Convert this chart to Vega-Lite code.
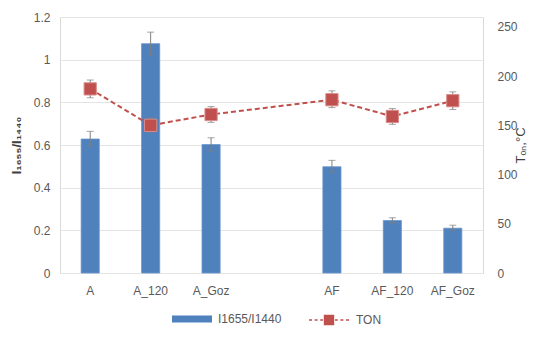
{
  "$schema": "https://vega.github.io/schema/vega-lite/v6.json",
  "autosize": "none",
  "width": 423,
  "height": 256,
  "padding": {"left": 60, "top": 17, "right": 67, "bottom": 66},
  "background": "white",
  "config": {
    "font": "Liberation Sans",
    "view": {"stroke": "#d9d9d9", "strokeWidth": 1},
    "axis": {"labelColor": "#595959", "labelFontSize": 12, "titleColor": "#404040", "titleFontSize": 13, "titleFontWeight": "bold", "domain": false, "ticks": false},
    "legend": {"labelFontSize": 12, "labelColor": "#595959", "symbolSize": 1600, "labelOffset": 6, "title": null, "orient": "none", "direction": "horizontal"}
  },
  "data": {
    "values": [
      {"cat": "A", "ratio": 0.628, "rlo": 0.595, "rhi": 0.664, "ton": 187, "tlo": 178, "thi": 196, "series": "I1655/I1440", "series2": "TON"},
      {"cat": "A_120", "ratio": 1.075, "rlo": 1.022, "rhi": 1.129, "ton": 150, "tlo": 143, "thi": 158, "series": "I1655/I1440", "series2": "TON"},
      {"cat": "A_Goz", "ratio": 0.602, "rlo": 0.572, "rhi": 0.634, "ton": 161, "tlo": 153, "thi": 169, "series": "I1655/I1440", "series2": "TON"},
      {"cat": "AF", "ratio": 0.498, "rlo": 0.472, "rhi": 0.528, "ton": 176, "tlo": 168, "thi": 185, "series": "I1655/I1440", "series2": "TON"},
      {"cat": "AF_120", "ratio": 0.246, "rlo": 0.234, "rhi": 0.259, "ton": 159, "tlo": 151, "thi": 167, "series": "I1655/I1440", "series2": "TON"},
      {"cat": "AF_Goz", "ratio": 0.21, "rlo": 0.199, "rhi": 0.224, "ton": 175, "tlo": 166, "thi": 184, "series": "I1655/I1440", "series2": "TON"}
    ]
  },
  "encoding": {
    "x": {
      "field": "cat", "type": "nominal",
      "scale": {"domain": ["A", "A_120", "A_Goz", "_gap", "AF", "AF_120", "AF_Goz"], "paddingInner": 0.7, "paddingOuter": 0.35},
      "axis": {"title": null, "labelAngle": 0, "labelPadding": 12, "labelExpr": "datum.value == '_gap' ? '' : datum.value", "grid": false}
    }
  },
  "layer": [
    {
      "layer": [
        {
          "mark": {"type": "bar", "stroke": "#6a96cc", "strokeWidth": 0.8},
          "encoding": {
            "y": {"field": "ratio", "type": "quantitative", "title": "I₁₆₅₅/I₁₄₄₀", "scale": {"domain": [0, 1.2]},
              "axis": {"values": [0, 0.2, 0.4, 0.6, 0.8, 1, 1.2], "labelPadding": 10, "titlePadding": 10, "gridColor": "#e4e4e4", "format": "~g"}},
            "color": {"field": "series", "type": "nominal",
              "scale": {"domain": ["I1655/I1440"], "range": ["#4f81bd"]},
              "legend": {
                "legendX": 112, "legendY": 282,
                "symbolType": "M-1,-0.17H1V0.17H-1Z", "symbolStrokeWidth": 0
              }}
          }
        },
        {
          "mark": {"type": "errorbar", "ticks": {"size": 7}, "color": "#7f7f7f", "thickness": 1},
          "encoding": {
            "y": {"field": "rlo", "type": "quantitative", "title": "I₁₆₅₅/I₁₄₄₀"},
            "y2": {"field": "rhi"}
          }
        }
      ]
    },
    {
      "layer": [
        {
          "mark": {"type": "line", "strokeDash": [5, 3], "strokeWidth": 2},
          "encoding": {
            "y": {"field": "ton", "type": "quantitative", "title": "Tₒₙ,°C", "scale": {"domain": [0, 250]},
              "axis": {"orient": "right", "titleAngle": 270, "values": [0, 50, 100, 150, 200, 250], "labelPadding": 14, "titlePadding": 10, "grid": false, "titleFontWeight": "normal"}},
            "stroke": {"field": "series2", "type": "nominal",
              "scale": {"domain": ["TON"], "range": ["#c0504d"]},
              "legend": {
                "legendX": 248, "legendY": 282,
                "symbolType": "M-1,0H-0.85M-0.72,0H-0.57M-0.44,0H-0.3M0.3,0H0.44M0.57,0H0.72M0.85,0H1M-0.22,-0.22H0.22V0.22H-0.22Z",
                "symbolFillColor": "#c0504d", "symbolStrokeWidth": 1.6, "symbolDash": [1, 0], "symbolOpacity": 1
              }}
          }
        },
        {
          "mark": {"type": "errorbar", "ticks": {"size": 7}, "color": "#7f7f7f", "thickness": 1},
          "encoding": {
            "y": {"field": "tlo", "type": "quantitative", "title": "Tₒₙ,°C"},
            "y2": {"field": "thi"}
          }
        },
        {
          "mark": {"type": "point", "shape": "square", "filled": true, "size": 150, "color": "#c0504d", "opacity": 1, "stroke": "#d98c8a", "strokeWidth": 1},
          "encoding": {
            "y": {"field": "ton", "type": "quantitative", "title": "Tₒₙ,°C"}
          }
        }
      ]
    }
  ],
  "resolve": {"scale": {"y": "independent"}}
}
